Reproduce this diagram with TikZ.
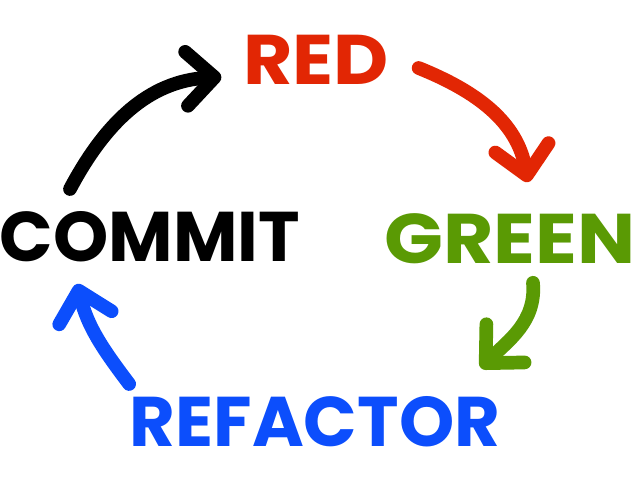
\documentclass[tikz,border=0pt]{standalone}
\usepackage{fontspec}
\setmainfont{Poppins}
\usepackage{tikz}
\usepackage{xcolor}
\usetikzlibrary{arrows.meta,positioning}

\definecolor{tddred}{RGB}{226,38,4}
\definecolor{tddgreen}{RGB}{90,154,4}
\definecolor{tddblue}{RGB}{12,78,252}

\tikzset{
    phase/.style={inner sep=0pt, font=\fontsize{20}{24}\selectfont\bfseries},
    cycarrow/.style={line width=3.9pt, line cap=round, line join=round,
        -{Straight Barb[length=2.8mm,width=5.4mm,line cap=round,line join=round]}},
}

\begin{document}
\begin{tikzpicture}
\useasboundingbox[fill=white] (0,0) rectangle (6.4,4.8);
    % the four phases
    \node[phase, tddred, xscale=1.08]   (red)      at (3.16,4.20) {RED};
    \node[phase, tddgreen, xscale=1.1] (green)    at (5.10,2.41) {GREEN};
    \node[phase, tddblue]  (refactor) at (3.15,0.58) {REFACTOR};
    \node[phase, black]    (commit)   at (1.50,2.43) {COMMIT};
    % arrows round the cycle
    \draw[cycarrow, black] ([shift={(-0.80,0.22)}]commit.north)
        to[out=62,in=183] ([shift={(-0.21,-0.17)}]red.west);
    \draw[cycarrow, tddred] ([shift={(0.29,-0.08)}]red.east)
        to[out=-22,in=100] ([shift={(0.18,0.31)}]green.north);
    \draw[cycarrow, tddgreen] ([shift={(0.23,-0.18)}]green.south)
        to[out=-85,in=45] ([shift={(-0.20,0.28)}]refactor.north east);
    \draw[cycarrow, tddblue] ([shift={(0,0.12)}]refactor.north west)
        to[out=127,in=-76] ([shift={(-0.73,-0.21)}]commit.south);
\end{tikzpicture}
\end{document}
